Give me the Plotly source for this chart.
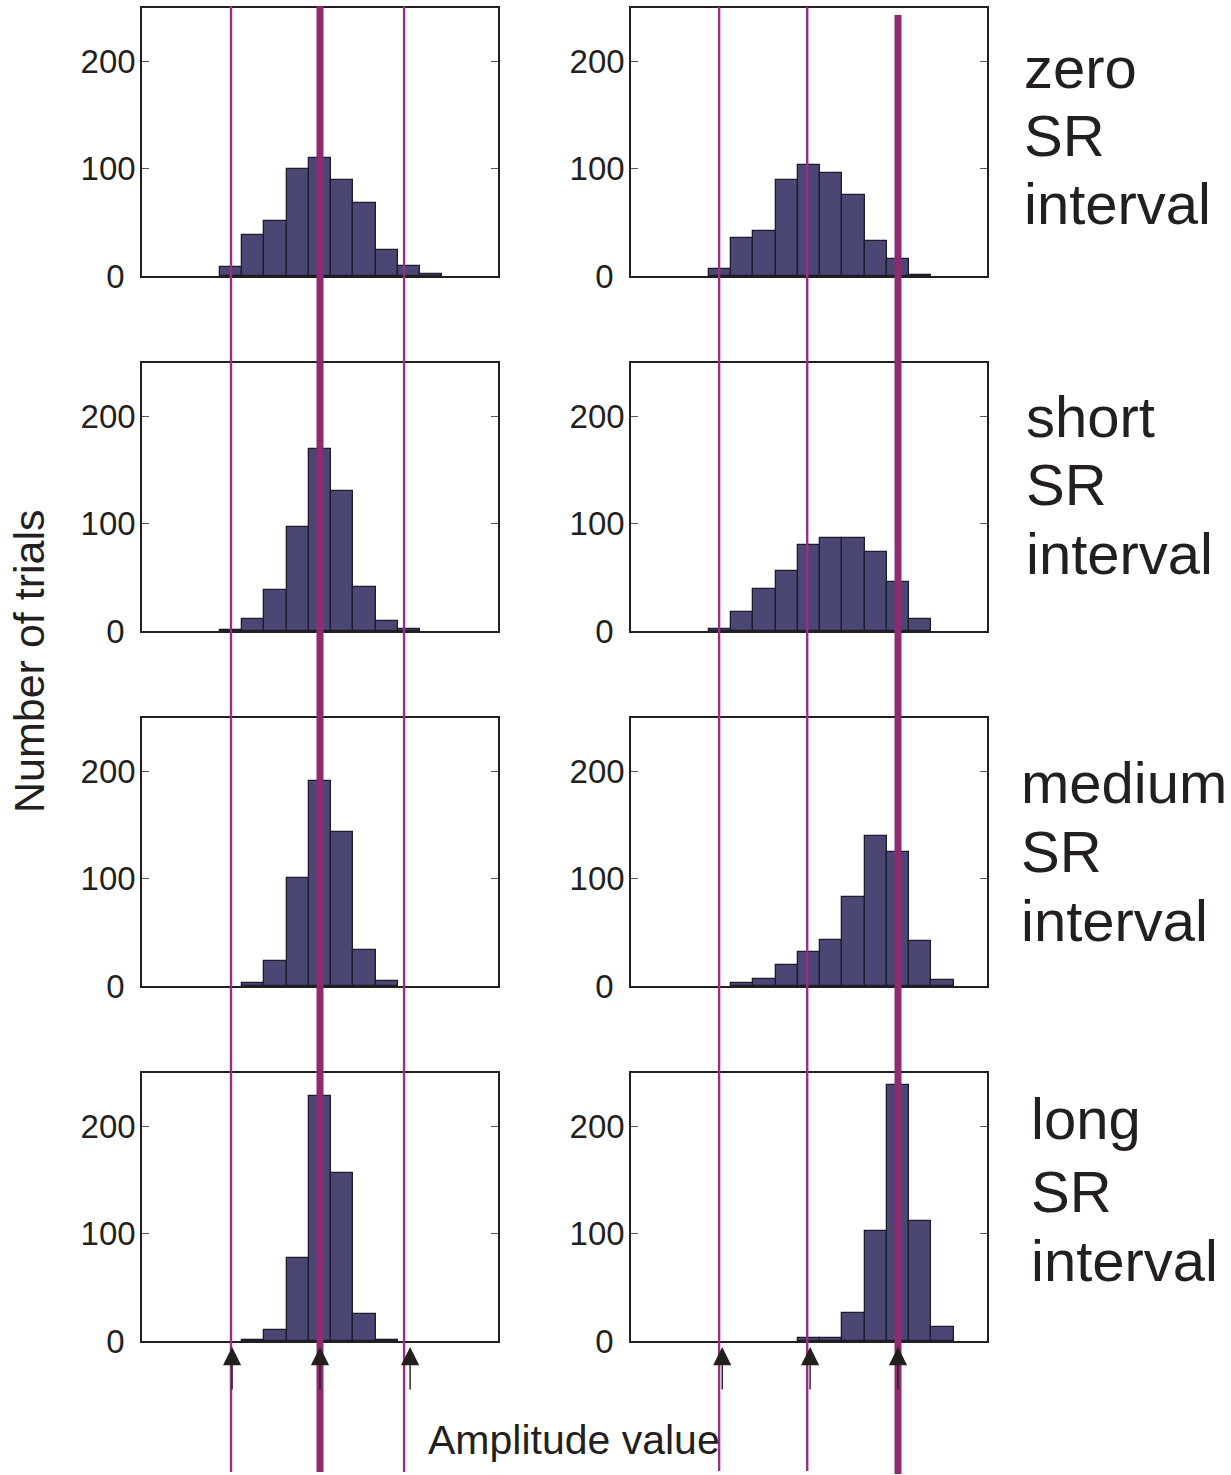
import plotly.graph_objects as go
from plotly.subplots import make_subplots

# ---------------- data ----------------
amplitude_bins = list(range(1, 16))  # histogram bin centres (arbitrary amplitude units)

zero_left = [0, 0, 0, 8, 38, 51, 100, 110, 90, 68, 24, 9, 2, 0, 0]
zero_right = [0, 0, 0, 7, 35, 42, 90, 104, 96, 76, 33, 16, 1, 0, 0]
short_left = [0, 0, 0, 1, 11, 38, 97, 170, 131, 41, 9, 2, 0, 0, 0]
short_right = [0, 0, 0, 2, 18, 39, 56, 80, 87, 87, 74, 46, 11, 0, 0]
medium_left = [0, 0, 0, 0, 3, 23, 101, 191, 144, 34, 5, 0, 0, 0, 0]
medium_right = [0, 0, 0, 0, 3, 7, 20, 32, 43, 83, 140, 125, 42, 6, 0]
long_left = [0, 0, 0, 0, 1, 10, 77, 229, 157, 25, 1, 0, 0, 0, 0]
long_right = [0, 0, 0, 0, 0, 0, 0, 3, 3, 26, 103, 239, 112, 13, 0]

row_labels = ["zero", "short", "medium", "long"]
y_ticks = [0, 100, 200]
y_tick_text = ["0\u2004", "100", "200"]

# reference amplitude values (vertical lines) and arrow markers
left_lines = [4.0, 8.0, 11.78]
left_thick = [False, True, False]
right_lines = [3.96, 7.92, 12.0]
right_thick = [False, False, True]
left_arrows = [4.05, 8.0, 12.05]
right_arrows = [4.1, 8.05, 12.0]

panels = [
    (zero_left, zero_right),
    (short_left, short_right),
    (medium_left, medium_right),
    (long_left, long_right),
]

# ---------------- figure ----------------
W, H = 1231, 1475
TXT = "#231f20"
BAR = "#4b4775"
THICK = "#8e2a6f"
THIN = "#9a2f82"
FONT = "Liberation Sans, Arial, Helvetica, sans-serif"


def xp(px):
    return px / W


def yp(py):
    return 1 - py / H


fig = make_subplots(rows=4, cols=2)

col_px = [(142, 498), (631, 987)]
row_px = [(8, 276), (363, 631), (718, 986), (1073, 1341)]

for r, (lv, rv) in enumerate(panels):
    for c, vals in enumerate((lv, rv)):
        xs_ = [b for b, v in zip(amplitude_bins, vals) if v > 0]
        ys_ = [v for v in vals if v > 0]
        fig.add_trace(
            go.Bar(
                x=xs_,
                y=ys_,
                width=1,
                marker=dict(color=BAR, line=dict(color="#1f1b2b", width=1.3)),
                showlegend=False,
                hoverinfo="x+y",
            ),
            row=r + 1,
            col=c + 1,
        )

for r in range(4):
    for c in range(2):
        idx = r * 2 + c + 1
        xs = "xaxis" if idx == 1 else f"xaxis{idx}"
        ys = "yaxis" if idx == 1 else f"yaxis{idx}"
        x0, x1 = col_px[c]
        t, b = row_px[r]
        fig.layout[xs].update(
            domain=[xp(x0), xp(x1)],
            range=[0, 16],
            showline=True,
            linecolor=TXT,
            linewidth=1.5,
            mirror=True,
            ticks="",
            showticklabels=False,
            showgrid=False,
            zeroline=False,
            fixedrange=True,
            automargin=False,
        )
        fig.layout[ys].update(
            domain=[yp(b), yp(t)],
            range=[0, 250],
            tickvals=y_ticks,
            ticktext=y_tick_text,
            showline=True,
            linecolor=TXT,
            linewidth=1.5,
            mirror="ticks",
            ticks="inside",
            ticklen=7,
            tickwidth=1.3,
            tickcolor="#555555",
            showgrid=False,
            zeroline=False,
            tickfont=dict(family=FONT, size=33, color=TXT),
            ticklabelstandoff=-2,
            fixedrange=True,
            automargin=False,
        )

shapes = []
for xv, thick in zip(left_lines, left_thick):
    shapes.append(dict(type="line", xref="x7", yref="paper", x0=xv, x1=xv,
                       y0=yp(1472), y1=yp(6), layer="above",
                       line=dict(color=THICK if thick else THIN, width=7 if thick else 2.4)))
for xv, thick in zip(right_lines, right_thick):
    shapes.append(dict(type="line", xref="x8", yref="paper", x0=xv, x1=xv,
                       y0=yp(1474) if thick else yp(1471), y1=yp(15) if thick else yp(7),
                       layer="above",
                       line=dict(color=THICK if thick else THIN, width=7 if thick else 2.4)))
fig.update_layout(shapes=shapes)

annotations = []
# arrows under bottom row
for xr, arr in (("x7", left_arrows), ("x8", right_arrows)):
    for xv in arr:
        annotations.append(dict(xref=xr, yref="paper", x=xv, y=yp(1347), text="",
                                showarrow=True, axref="pixel", ayref="pixel", ax=0, ay=44,
                                arrowhead=2, arrowsize=2.6, arrowwidth=1.4,
                                arrowcolor=TXT, standoff=0, startstandoff=0))

# row labels on the right
label_pos = [
    (1025, [87, 155, 223]),
    (1027, [436, 504, 573]),
    (1022, [802, 871, 940]),
    (1032, [1138, 1211, 1280]),
]
LF = 58
for name, (lx, baselines) in zip(row_labels, label_pos):
    for word, bl in zip([name, "SR", "interval"], baselines):
        annotations.append(dict(xref="paper", yref="paper", x=xp(lx - 3), y=yp(bl - 0.33 * LF),
                                xanchor="left", yanchor="middle", text=word, showarrow=False,
                                font=dict(family=FONT, size=LF, color=TXT)))

annotations.append(dict(xref="paper", yref="paper", x=xp(29), y=yp(662), text="Number of trials",
                        textangle=-90, showarrow=False, xanchor="center", yanchor="middle",
                        font=dict(family=FONT, size=43, color=TXT)))
annotations.append(dict(xref="paper", yref="paper", x=xp(574), y=yp(1440), text="Amplitude value",
                        showarrow=False, xanchor="center", yanchor="middle",
                        font=dict(family=FONT, size=41, color=TXT)))

fig.update_layout(
    annotations=annotations,
    width=W,
    height=H,
    autosize=False,
    margin=dict(l=0, r=0, t=0, b=0, pad=0, autoexpand=False),
    paper_bgcolor="white",
    plot_bgcolor="white",
    bargap=0,
    font=dict(family=FONT, color=TXT),
)

fig.write_html(
    "out.html",
    config={"responsive": False, "displayModeBar": False},
    post_script="document.body.style.margin='0px';document.body.style.overflow='hidden';",
)
